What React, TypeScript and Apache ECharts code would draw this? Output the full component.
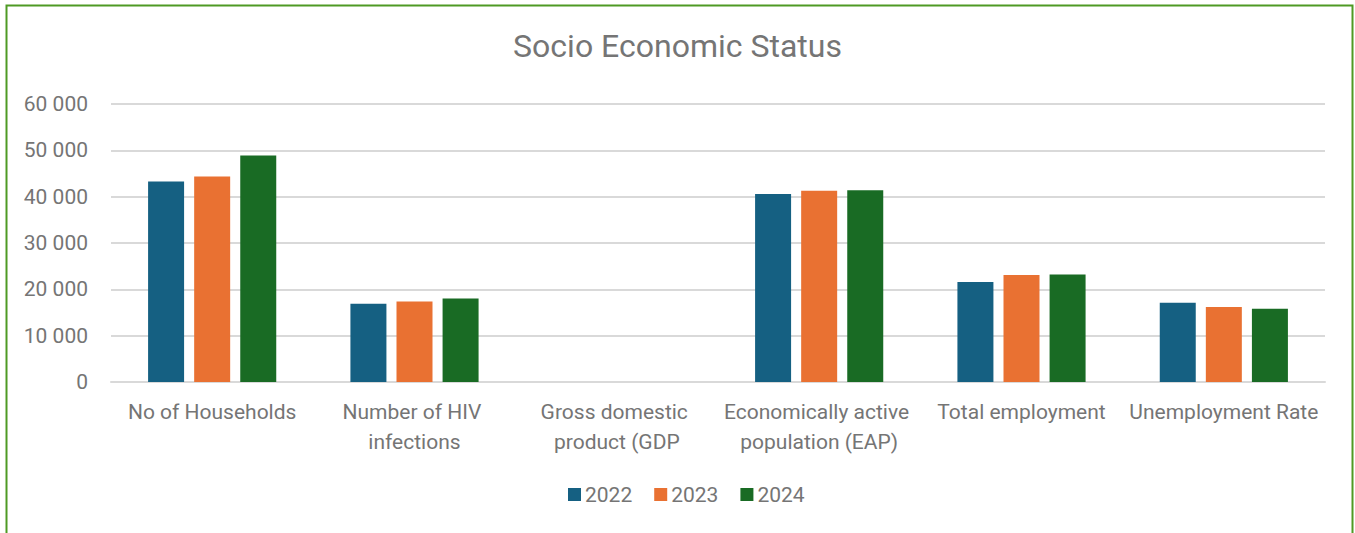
import React, { useEffect, useRef } from "react";
import * as echarts from "echarts";

const categories = [
  "No of Households",
  "Number of HIV infections",
  "Gross domestic product (GDP",
  "Economically active population (EAP)",
  "Total employment",
  "Unemployment Rate",
];
const seriesNames = ["2022", "2023", "2024"];
const values2022 = [43300, 16900, null, 40600, 21600, 17100];
const values2023 = [44350, 17400, null, 41300, 23100, 16200];
const values2024 = [48900, 18000, null, 41400, 23200, 15800];
const colors = ["#156082", "#E97132", "#196B24"];
const yTicks = { min: 0, max: 60000, interval: 10000 };

const FONT = "Roboto, 'Noto Sans', sans-serif";

function fmt(v: number) {
  return String(v).replace(/\B(?=(\d{3})+(?!\d))/g, " ");
}

export default function App() {
  const ref = useRef<HTMLDivElement>(null);
  useEffect(() => {
    if (!ref.current) return;
    const chart = echarts.init(ref.current, undefined, { renderer: "svg" });
    const data = [values2022, values2023, values2024];
    chart.setOption({
      animation: false,
      backgroundColor: "#ffffff",
      textStyle: { fontFamily: FONT },
      title: {
        text: "Socio Economic Status",
        left: "center",
        top: 25,
        textStyle: { fontFamily: FONT, fontSize: 32, fontWeight: "normal", color: "#757575" },
      },
      graphic: [
        {
          type: "rect",
          shape: { x: 6.5, y: 5.5, width: 1346, height: 560 },
          style: { fill: "none", stroke: "#4e9a24", lineWidth: 2 },
          silent: true,
          z: 100,
        },
      ],
      legend: {
        bottom: 23,
        left: 563,
        itemWidth: 13,
        itemHeight: 13,
        itemGap: 22,
        icon: "rect",
        textStyle: { fontFamily: FONT, fontSize: 21, color: "#757575", padding: [0, 0, 0, -1] },
        data: seriesNames,
      },
      grid: { left: 111, right: 30, top: 104, bottom: 151, containLabel: false },
      xAxis: {
        type: "category",
        data: categories,
        axisTick: { show: false },
        axisLine: { lineStyle: { color: "#d9d9d9", width: 2 } },
        axisLabel: {
          interval: 0,
          margin: 15,
          color: "#757575",
          fontFamily: FONT,
          fontSize: 21,
          lineHeight: 30,
          width: 200,
          overflow: "break",
        },
      },
      yAxis: {
        type: "value",
        min: yTicks.min,
        max: yTicks.max,
        interval: yTicks.interval,
        axisLine: { show: false },
        axisTick: { show: false },
        splitLine: { lineStyle: { color: "#d9d9d9", width: 2 } },
        axisLabel: {
          margin: 23,
          color: "#757575",
          fontFamily: FONT,
          fontSize: 21,
          formatter: (v: number) => fmt(v),
        },
      },
      series: seriesNames.map((name, i) => ({
        name,
        type: "bar",
        data: data[i],
        barWidth: 36,
        barGap: "28%",
        itemStyle: { color: colors[i] },
      })),
    });
    return () => chart.dispose();
  }, []);
  return (
    <div
      ref={ref}
      style={{ position: "fixed", left: 0, top: 0, width: 1355, height: 533 }}
    />
  );
}
